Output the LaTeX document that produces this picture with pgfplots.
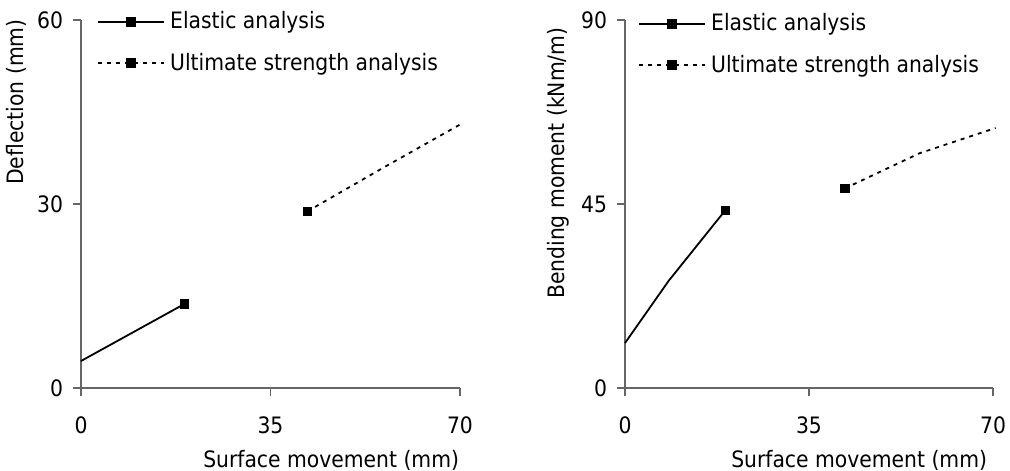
\documentclass[border=0pt]{standalone}
\usepackage{pgfplots}
\pgfplotsset{compat=1.18}
\usepackage{fontspec}
\setmainfont{DejaVu Sans Condensed}
\begin{document}
\fontsize{11.3bp}{13.5bp}\selectfont
\begin{tikzpicture}
\path[use as bounding box] (0,0) rectangle (505bp,235.5bp);
\pgfplotsset{
 mystyle/.style={
  scale only axis, height=184bp,
  axis x line*=bottom, axis y line*=left,
  axis line style={black!60, line width=0.6bp},
  xmin=0, xmax=70, ymin=0,
  xtick={0,35,70},
  tick style={black!60, line width=0.6bp},
  tick align=outside, major tick length=4bp,
  /pgf/number format/assume math mode=true,
  tick label style={font=\fontsize{11.3bp}{13.5bp}\selectfont},
  xticklabel style={yshift=-6.5bp},
  yticklabel style={xshift=-1bp},
  label style={font=\fontsize{11.3bp}{13.5bp}\selectfont},
  clip=false,
  legend cell align=left,
  legend style={draw=none, fill=none, inner sep=0pt, row sep=10.5bp,
    nodes={inner sep=0pt, font=\fontsize{11.3bp}{13.5bp}\selectfont},
    /tikz/every odd column/.append style={column sep=2.5bp}},
  legend image code/.code={\draw[mark repeat=2,mark phase=2,##1] plot coordinates {(0bp,0bp) (16.5bp,0bp) (33bp,0bp)};},
 },
 elastic/.style={black, line width=0.9bp, solid},
 ultimate/.style={black, line width=0.9bp, dash pattern=on 2bp off 2.5bp},
 sqmark/.style={mark=square*, mark size=2.1bp, mark options={solid, fill=black}},
}
% Left panel
\begin{axis}[mystyle, width=189.5bp, at={(40.5bp,41.5bp)}, anchor=south west,
  ymax=60, ytick={0,30,60},
  xlabel={Surface movement (mm)}, ylabel={Deflection (mm)},
  xlabel style={at={(axis description cs:1,0)}, anchor=east, yshift=-36bp, xshift=3.5bp},
  ylabel style={at={(axis description cs:-0.1715,0.777)}, anchor=center},
  legend style={at={(axis description cs:0,1)}, anchor=north west, xshift=8bp, yshift=4.5bp}]
\addlegendimage{elastic, sqmark}
\addlegendentry{Elastic analysis}
\addlegendimage{ultimate, sqmark}
\addlegendentry{Ultimate strength analysis}
\addplot[elastic, forget plot] coordinates {(0,4.4) (19.1,13.7)};
\addplot[only marks, sqmark, forget plot] coordinates {(19.1,13.7)};
\addplot[ultimate, forget plot] coordinates {(41.8,28.8) (56,36.0) (70.5,43.2)};
\addplot[only marks, sqmark, forget plot] coordinates {(41.8,28.8)};
\end{axis}
% Right panel
\begin{axis}[mystyle, width=184bp, at={(312.5bp,41.5bp)}, anchor=south west,
  ymax=90, ytick={0,45,90},
  xlabel={Surface movement (mm)}, ylabel={Bending moment (kNm/m)},
  xlabel style={at={(axis description cs:1,0)}, anchor=east, yshift=-36bp, xshift=1bp},
  ylabel style={at={(axis description cs:-0.182,0.611)}, anchor=center},
  legend style={at={(axis description cs:0,1)}, anchor=north west, xshift=6.5bp, yshift=3.5bp}]
\addlegendimage{elastic, sqmark}
\addlegendentry{Elastic analysis}
\addlegendimage{ultimate, sqmark}
\addlegendentry{Ultimate strength analysis}
\addplot[elastic, forget plot] coordinates {(0,11.0) (8.3,26.2) (19.1,43.5)};
\addplot[only marks, sqmark, forget plot] coordinates {(19.1,43.5)};
\addplot[ultimate, forget plot] coordinates {(41.8,48.8) (56,57.4) (70.5,63.6)};
\addplot[only marks, sqmark, forget plot] coordinates {(41.8,48.8)};
\end{axis}
\end{tikzpicture}
\end{document}
